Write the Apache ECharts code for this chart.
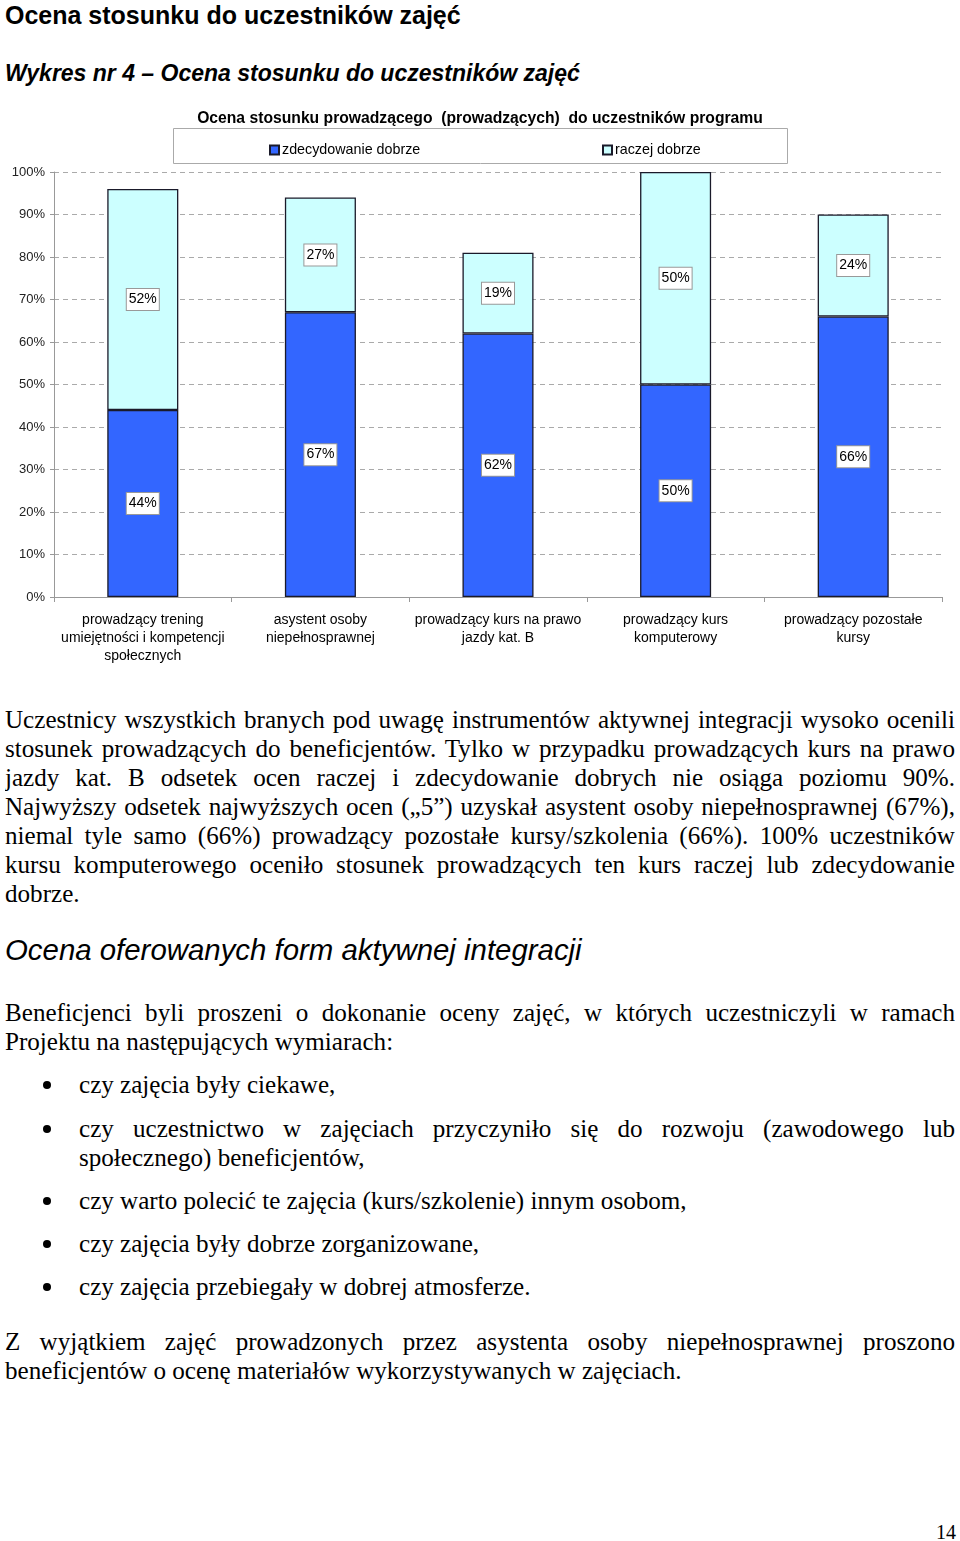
<!DOCTYPE html>
<html>
<head>
<meta charset="utf-8">
<script src="https://cdn.jsdelivr.net/npm/echarts@6/dist/echarts.min.js"></script>
<style>
  html, body { margin:0; padding:0; background:#fff; }
  body { width:960px; height:1541px; position:relative; overflow:hidden; }
  .abs { position:absolute; }
  .h1 { left:5px; top:0px; font:bold 25px/30px "Liberation Sans", Arial, sans-serif; color:#000; white-space:nowrap; }
  .h2 { left:5px; top:58px; font:italic bold 23px/30px "Liberation Sans", Arial, sans-serif; color:#000; white-space:nowrap; }
  .h3 { left:5px; top:933px; font:italic 29.4px/34px "Liberation Sans", Arial, sans-serif; color:#000; white-space:nowrap; }
  .txt { font-family:"Liberation Serif", "Times New Roman", serif; font-size:25.1px; color:#000; }
  .ln { height:29px; line-height:29px; white-space:nowrap; }
  .j { text-align:justify; text-align-last:justify; white-space:normal; overflow:hidden; }
  .dot { position:absolute; left:43px; width:8px; height:8px; border-radius:50%; background:#000; }
  #chart { position:absolute; left:0; top:100px; width:960px; height:570px; }
</style>
</head>
<body>
<div class="abs h1">Ocena stosunku do uczestników zajęć</div>
<div class="abs h2">Wykres nr 4 – Ocena stosunku do uczestników zajęć</div>
<div id="chart"></div>

<div class="abs txt" style="left:5px; top:705px; width:950px;">
  <div class="ln j">Uczestnicy wszystkich branych pod uwagę instrumentów aktywnej integracji wysoko ocenili</div>
  <div class="ln j">stosunek prowadzących do beneficjentów. Tylko w przypadku prowadzących kurs na prawo</div>
  <div class="ln j">jazdy kat. B odsetek ocen raczej i zdecydowanie dobrych nie osiąga poziomu 90%.</div>
  <div class="ln j">Najwyższy odsetek najwyższych ocen („5”) uzyskał asystent osoby niepełnosprawnej (67%),</div>
  <div class="ln j">niemal tyle samo (66%) prowadzący pozostałe kursy/szkolenia (66%). 100% uczestników</div>
  <div class="ln j">kursu komputerowego oceniło stosunek prowadzących ten kurs raczej lub zdecydowanie</div>
  <div class="ln">dobrze.</div>
</div>

<div class="abs h3">Ocena oferowanych form aktywnej integracji</div>

<div class="abs txt" style="left:5px; top:998px; width:950px;">
  <div class="ln j">Beneficjenci byli proszeni o dokonanie oceny zajęć, w których uczestniczyli w ramach</div>
  <div class="ln">Projektu na następujących wymiarach:</div>
</div>

<div class="dot" style="top:1081px;"></div>
<div class="abs txt" style="left:79px; top:1070px; width:876px;"><div class="ln">czy zajęcia były ciekawe,</div></div>

<div class="dot" style="top:1125px;"></div>
<div class="abs txt" style="left:79px; top:1114px; width:876px;">
  <div class="ln j">czy uczestnictwo w zajęciach przyczyniło się do rozwoju (zawodowego lub</div>
  <div class="ln">społecznego) beneficjentów,</div>
</div>

<div class="dot" style="top:1197px;"></div>
<div class="abs txt" style="left:79px; top:1186px; width:876px;"><div class="ln">czy warto polecić te zajęcia (kurs/szkolenie) innym osobom,</div></div>

<div class="dot" style="top:1240px;"></div>
<div class="abs txt" style="left:79px; top:1229px; width:876px;"><div class="ln">czy zajęcia były dobrze zorganizowane,</div></div>

<div class="dot" style="top:1283px;"></div>
<div class="abs txt" style="left:79px; top:1272px; width:876px;"><div class="ln">czy zajęcia przebiegały w dobrej atmosferze.</div></div>

<div class="abs txt" style="left:5px; top:1327px; width:950px;">
  <div class="ln j">Z wyjątkiem zajęć prowadzonych przez asystenta osoby niepełnosprawnej proszono</div>
  <div class="ln">beneficjentów o ocenę materiałów wykorzystywanych w zajęciach.</div>
</div>

<div class="abs" style="right:4px; top:1519px; font:20px/26px 'Liberation Serif', serif;">14</div>

<script>
const categories = [
  'prowadzący trening\numiejętności i kompetencji\nspołecznych',
  'asystent osoby\nniepełnosprawnej',
  'prowadzący kurs na prawo\njazdy kat. B',
  'prowadzący kurs\nkomputerowy',
  'prowadzący pozostałe\nkursy'
];
const zdecydowanieDobrze = [44, 67, 62, 50, 66];
const raczejDobrze = [52, 27, 19, 50, 24];
const yTicks = [0, 10, 20, 30, 40, 50, 60, 70, 80, 90, 100];

const chart = echarts.init(document.getElementById('chart'), null, {renderer:'canvas'});
const FONT = '"Liberation Sans", Arial, sans-serif';
const labelStyle = {
  show: true,
  position: 'inside',
  formatter: '{c}%',
  color: '#000',
  fontSize: 14,
  fontFamily: FONT,
  backgroundColor: '#fff',
  borderColor: '#999',
  borderWidth: 1,
  padding: [4, 2, 3, 2]
};
chart.setOption({
  animation: false,
  title: {
    text: 'Ocena stosunku prowadzącego  (prowadzących)  do uczestników programu',
    left: 'center',
    top: 6,
    textStyle: { fontSize: 15.7, fontWeight: 'bold', fontFamily: FONT, color: '#000' }
  },
  graphic: [{
    type: 'rect',
    shape: { x: 173.5, y: 28.5, width: 614, height: 35 },
    style: { fill: '#fff', stroke: '#aaa', lineWidth: 1 },
    z: 0
  }],
  legend: [
    {
      data: [{ name: 'zdecydowanie dobrze', icon: 'rect' }],
      left: 264, top: 38,
      itemWidth: 9, itemHeight: 9, itemGap: 4,
      textStyle: { fontSize: 14.3, fontFamily: FONT, color: '#000', padding: [0,0,0,-2] },
      z: 5
    },
    {
      data: [{ name: 'raczej dobrze', icon: 'rect' }],
      left: 597, top: 38,
      itemWidth: 9, itemHeight: 9, itemGap: 4,
      textStyle: { fontSize: 14.3, fontFamily: FONT, color: '#000', padding: [0,0,0,-2] },
      z: 5
    }
  ],
  grid: { left: 54, right: 18, top: 72, bottom: 73 },
  xAxis: {
    type: 'category',
    data: categories,
    axisLine: { lineStyle: { color: '#999', width: 1 } },
    axisTick: { show: true, length: 5, lineStyle: { color: '#999' } },
    axisLabel: { fontSize: 14, fontFamily: FONT, color: '#000', lineHeight: 18, margin: 14, interval: 0 }
  },
  yAxis: {
    type: 'value',
    min: 0, max: 100, interval: 10,
    axisLine: { show: true, lineStyle: { color: '#999', width: 1 } },
    axisTick: { show: true, length: 4, lineStyle: { color: '#999' } },
    axisLabel: { fontSize: 13, fontFamily: FONT, color: '#222', margin: 9,
      formatter: v => (yTicks.indexOf(v) >= 0 ? v + '%' : '') },
    splitLine: { show: true, lineStyle: { color: '#aaa', type: [5, 4], width: 1 } }
  },
  series: [
    {
      name: 'zdecydowanie dobrze',
      type: 'bar',
      stack: 'total',
      data: zdecydowanieDobrze,
      barWidth: '40%',
      itemStyle: { color: '#3366ff', borderColor: '#1a1a2a', borderWidth: 1.3 },
      label: labelStyle
    },
    {
      name: 'raczej dobrze',
      type: 'bar',
      stack: 'total',
      data: raczejDobrze,
      barWidth: '40%',
      itemStyle: { color: '#ccffff', borderColor: '#1a1a2a', borderWidth: 1.3 },
      label: labelStyle
    }
  ]
});
</script>
</body>
</html>
